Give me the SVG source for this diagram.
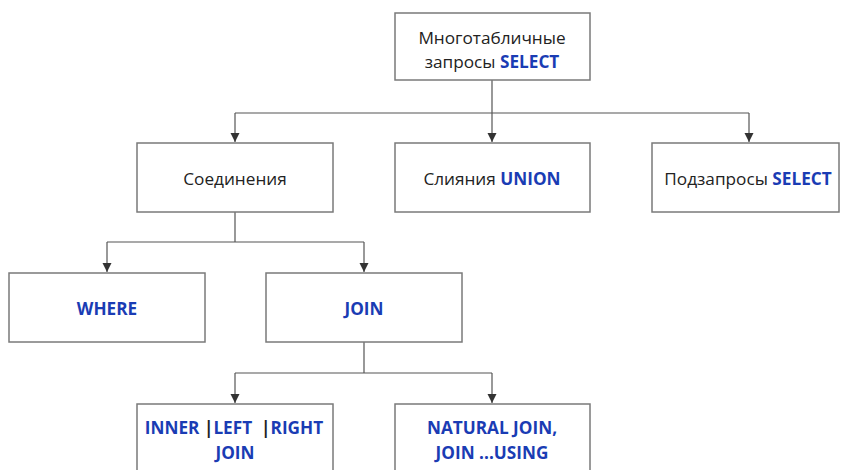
<svg xmlns="http://www.w3.org/2000/svg" width="842" height="470" viewBox="0 0 842 470">
<defs>
<marker id="ah" markerWidth="10" markerHeight="10" refX="9" refY="5" orient="auto" markerUnits="userSpaceOnUse" viewBox="0 0 10 10">
<path d="M0,0.5 L9,5 L0,9.5 Z" fill="#333"/>
</marker>
</defs>
<style>
.box{fill:#fff;stroke:#7a7a7a;stroke-width:1.5}
.t{font-family:"Open Sans","Noto Sans","Liberation Sans",sans-serif;font-size:17.2px;fill:#222;text-anchor:middle;dominant-baseline:central}
.b{fill:#1a3cb4;font-weight:bold}
.k{fill:#222;font-weight:bold}
.c{fill:none;stroke:#555;stroke-width:1.2}
</style>
<rect width="842" height="470" fill="#fff"/>
<g id="connectors">
<path class="c" d="M492,80 V113 M235,113 H749"/>
<path class="c" d="M235,113 V142" marker-end="url(#ah)"/>
<path class="c" d="M492,113 V142" marker-end="url(#ah)"/>
<path class="c" d="M749,113 V142" marker-end="url(#ah)"/>
<path class="c" d="M235,212 V242 M107,242 H364"/>
<path class="c" d="M107,242 V272" marker-end="url(#ah)"/>
<path class="c" d="M364,242 V272" marker-end="url(#ah)"/>
<path class="c" d="M364,342 V373 M235,373 H492"/>
<path class="c" d="M235,373 V403" marker-end="url(#ah)"/>
<path class="c" d="M492,373 V403" marker-end="url(#ah)"/>
</g>
<g id="n-root">
<rect class="box" x="395" y="13" width="195" height="67"/>
<text class="t" x="492" y="37">Многотабличные</text>
<text class="t" x="492" y="61">запросы <tspan class="b">SELECT</tspan></text>
</g>
<g id="n-joins">
<rect class="box" x="137" y="143" width="196" height="69"/>
<text class="t" x="235" y="178">Соединения</text>
</g>
<g id="n-union">
<rect class="box" x="395" y="143" width="195" height="69"/>
<text class="t" x="492" y="178">Слияния <tspan class="b">UNION</tspan></text>
</g>
<g id="n-sub">
<rect class="box" x="652" y="143" width="187" height="69"/>
<text class="t" x="748" y="178">Подзапросы <tspan class="b">SELECT</tspan></text>
</g>
<g id="n-where">
<rect class="box" x="9" y="273" width="196" height="69"/>
<text class="t b" x="107" y="308">WHERE</text>
</g>
<g id="n-join">
<rect class="box" x="266" y="273" width="196" height="69"/>
<text class="t b" x="364" y="308">JOIN</text>
</g>
<g id="n-inner">
<rect class="box" x="137" y="404" width="196" height="75"/>
<text class="t b" x="234" y="427" xml:space="preserve">INNER <tspan class="k">|</tspan>LEFT  <tspan class="k">|</tspan>RIGHT</text>
<text class="t b" x="235" y="452">JOIN</text>
</g>
<g id="n-natural">
<rect class="box" x="395" y="404" width="195" height="75"/>
<text class="t b" x="492" y="427">NATURAL JOIN,</text>
<text class="t b" x="492" y="452">JOIN ...USING</text>
</g>
</svg>
